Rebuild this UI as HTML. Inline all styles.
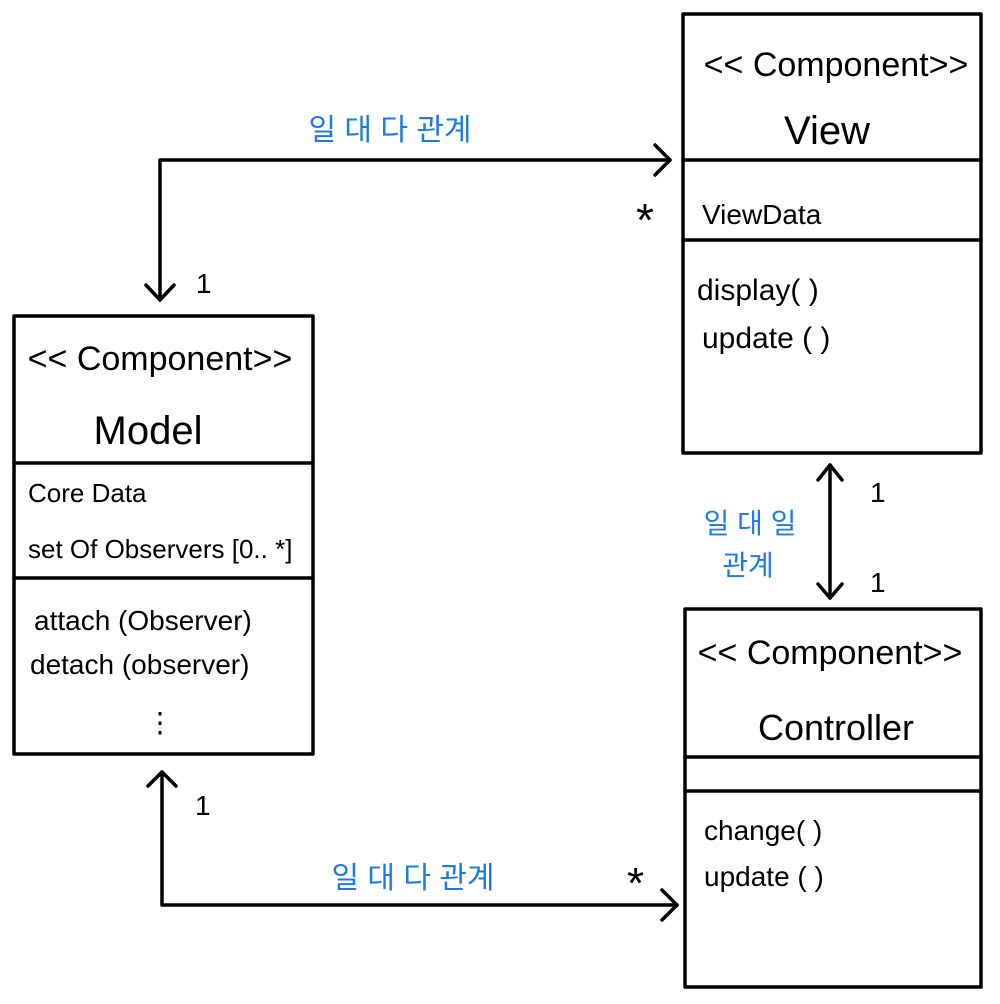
<!DOCTYPE html>
<html><head><meta charset="utf-8"><style>
html,body{margin:0;padding:0;background:#fff;}
svg{display:block;}
text{font-family:"Liberation Sans","Noto Sans CJK KR",sans-serif;fill:#000;}
.b{fill:#1a7be0;}
</style></head><body>
<svg width="1000" height="1004" viewBox="0 0 1000 1004" xmlns="http://www.w3.org/2000/svg">
<g fill="none" stroke="#000" stroke-width="3.5" stroke-linecap="round" stroke-linejoin="round">
<rect x="683" y="14" width="298" height="439"/>
<line x1="683" y1="160" x2="981" y2="160"/>
<line x1="683" y1="240" x2="981" y2="240"/>
<rect x="14" y="316" width="299" height="438"/>
<line x1="14" y1="463" x2="313" y2="463"/>
<line x1="14" y1="578" x2="313" y2="578"/>
<rect x="685" y="609" width="296" height="378"/>
<line x1="685" y1="757" x2="981" y2="757"/>
<line x1="685" y1="791" x2="981" y2="791"/>
<polyline points="160,300 160,160 670,160"/>
<polyline points="655,145 670,160 655,175"/>
<polyline points="146,285 160,300 174,285"/>
<line x1="830" y1="465" x2="830" y2="598"/>
<polyline points="818,480 830,465 842,480"/>
<polyline points="818,584 830,598 842,584"/>
<polyline points="162,772 162,905 677,905"/>
<polyline points="148,786 162,772 176,786"/>
<polyline points="662,890 677,905 662,920"/>
</g>
<text x="836" y="76" font-size="34" text-anchor="middle">&lt;&lt; Component&gt;&gt;</text>
<text x="827" y="144" font-size="40" text-anchor="middle">View</text>
<text x="702" y="224" font-size="28">ViewData</text>
<text x="697" y="300" font-size="30">display( )</text>
<text x="702" y="348" font-size="30">update ( )</text>
<text x="636" y="236" font-size="46">*</text>

<text x="160" y="370" font-size="34" text-anchor="middle">&lt;&lt; Component&gt;&gt;</text>
<text x="148" y="444" font-size="40" text-anchor="middle">Model</text>
<text x="28" y="502" font-size="26">Core Data</text>
<text x="28" y="558" font-size="26">set Of Observers [0.. *]</text>
<text x="34" y="630" font-size="28">attach (Observer)</text>
<text x="30" y="674" font-size="28">detach (observer)</text>
<text x="160" y="732" font-size="28" text-anchor="middle">⋮</text>
<text x="196" y="293" font-size="28">1</text>
<text x="195" y="815" font-size="28">1</text>

<text x="830" y="664" font-size="34" text-anchor="middle">&lt;&lt; Component&gt;&gt;</text>
<text x="836" y="740" font-size="36" text-anchor="middle">Controller</text>
<text x="704" y="840" font-size="28">change( )</text>
<text x="704" y="886" font-size="28">update ( )</text>
<text x="627" y="898" font-size="44">*</text>
<text x="870" y="502" font-size="28">1</text>
<text x="870" y="592" font-size="28">1</text>

<text class="b" x="390" y="140" font-size="30" text-anchor="middle">일 대 다 관계</text>
<text class="b" x="750" y="533" font-size="28" text-anchor="middle">일 대 일</text>
<text class="b" x="748" y="575" font-size="28" text-anchor="middle">관계</text>
<text class="b" x="413" y="888" font-size="30" text-anchor="middle">일 대 다 관계</text>
</svg>
</body></html>
